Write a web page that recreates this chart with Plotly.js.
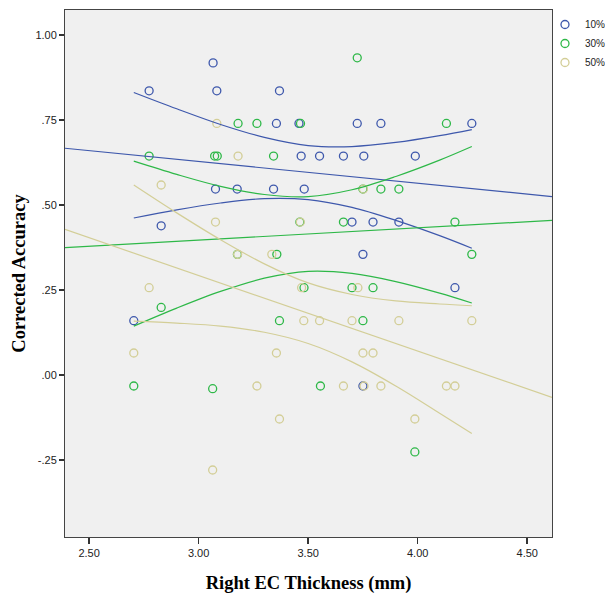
<!DOCTYPE html>
<html>
<head>
<meta charset="utf-8">
<script src="https://cdn.plot.ly/plotly-3.0.1.min.js"></script>
<style>html,body{margin:0;padding:0;background:#fff;overflow:hidden}#chart{width:625px;height:599px}</style>
</head>
<body>
<div id="chart"></div>
<script>
// ---- data ----
const groupNames = ['10%', '30%', '50%'];

const x10 = [2.704, 2.774, 2.829, 3.066, 3.083, 3.077, 3.176, 3.369, 3.355, 3.458, 3.724, 3.832, 4.247, 3.468, 3.552, 3.661, 3.754, 3.989, 3.342, 3.482, 3.700, 3.796, 3.914, 3.750, 4.170, 3.750];
const y10 = [0.160, 0.836, 0.439, 0.918, 0.836, 0.547, 0.547, 0.836, 0.740, 0.740, 0.740, 0.740, 0.740, 0.644, 0.644, 0.644, 0.644, 0.644, 0.547, 0.547, 0.450, 0.450, 0.450, 0.355, 0.257, -0.032];

const x30 = [3.724, 3.180, 3.266, 3.465, 4.131, 2.774, 3.073, 3.085, 3.342, 3.750, 3.832, 3.914, 3.462, 3.661, 4.170, 3.177, 3.357, 4.247, 3.481, 3.700, 3.796, 2.829, 3.369, 3.750, 2.704, 3.064, 3.556, 3.987];
const y30 = [0.933, 0.740, 0.740, 0.740, 0.740, 0.644, 0.644, 0.644, 0.644, 0.547, 0.547, 0.547, 0.450, 0.450, 0.450, 0.355, 0.355, 0.355, 0.257, 0.257, 0.257, 0.199, 0.160, 0.160, -0.032, -0.040, -0.032, -0.226];

const x50 = [3.083, 3.180, 2.829, 3.752, 3.077, 3.464, 3.178, 3.334, 2.774, 3.470, 3.727, 3.480, 3.552, 3.700, 3.914, 4.247, 2.704, 3.355, 3.750, 3.796, 3.266, 3.661, 3.755, 3.832, 4.131, 4.170, 3.369, 3.987, 3.064];
const y50 = [0.740, 0.644, 0.559, 0.547, 0.450, 0.450, 0.355, 0.355, 0.257, 0.257, 0.257, 0.160, 0.160, 0.160, 0.160, 0.160, 0.065, 0.065, 0.065, 0.065, -0.032, -0.032, -0.032, -0.032, -0.032, -0.032, -0.129, -0.129, -0.279];

// linear fit lines (value at the left and right ends of the x axis)
const fitX = [2.39, 4.613];
const fit10 = [0.667, 0.525];
const fit30 = [0.375, 0.455];
const fit50 = [0.4285, -0.0656];

// 95% mean confidence bands, sampled along the data range
const ciX = [2.704, 2.9, 3.1, 3.3, 3.5, 3.7, 3.9, 4.1, 4.247];
const ci10Up = [0.831, 0.783, 0.737, 0.699, 0.675, 0.672, 0.684, 0.704, 0.722];
const ci10Lo = [0.462, 0.486, 0.506, 0.519, 0.516, 0.493, 0.455, 0.410, 0.373];
const ci30Up = [0.629, 0.590, 0.555, 0.531, 0.525, 0.545, 0.584, 0.632, 0.672];
const ci30Lo = [0.144, 0.197, 0.246, 0.285, 0.305, 0.299, 0.275, 0.241, 0.212];
const ci50Up = [0.559, 0.477, 0.398, 0.327, 0.271, 0.237, 0.218, 0.209, 0.204];
const ci50Lo = [0.159, 0.153, 0.144, 0.126, 0.093, 0.039, -0.032, -0.112, -0.172];

const xTicks = [2.5, 3.0, 3.5, 4.0, 4.5];
const xTickText = ['2.50', '3.00', '3.50', '4.00', '4.50'];
const yTicks = [-0.25, 0, 0.25, 0.5, 0.75, 1.0];
const yTickText = ['-.25', '.00', '.25', '.50', '.75', '1.00'];

// ---- styling ----
const colors = ['#3E58AC', '#2EB848', '#D3CE97'];
const xs = [x10, x30, x50];
const ys = [y10, y30, y50];
const fits = [fit10, fit30, fit50];
const ups = [ci10Up, ci30Up, ci50Up];
const los = [ci10Lo, ci30Lo, ci50Lo];

const traces = [];
for (let i = 0; i < 3; i++) {
  traces.push({
    type: 'scatter', mode: 'markers', name: groupNames[i],
    x: xs[i], y: ys[i],
    marker: {symbol: 'circle-open', size: 8, color: colors[i], line: {width: 1.3, color: colors[i]}},
    hoverinfo: 'x+y'
  });
}
for (let i = 0; i < 3; i++) {
  traces.push({type: 'scatter', mode: 'lines', x: fitX, y: fits[i], showlegend: false,
    line: {color: colors[i], width: 1.2}, hoverinfo: 'skip'});
  traces.push({type: 'scatter', mode: 'lines', x: ciX, y: ups[i], showlegend: false,
    line: {color: colors[i], width: 1.2, shape: 'spline', smoothing: 1}, hoverinfo: 'skip'});
  traces.push({type: 'scatter', mode: 'lines', x: ciX, y: los[i], showlegend: false,
    line: {color: colors[i], width: 1.2, shape: 'spline', smoothing: 1}, hoverinfo: 'skip'});
}

const tickFont = {family: '"Liberation Sans", Arial, sans-serif', size: 11, color: '#222'};
const titleFont = {family: '"Liberation Serif", "Times New Roman", serif', size: 18.5, color: '#000', weight: 'bold'};

const layout = {
  width: 625, height: 599,
  margin: {l: 65, r: 73, t: 10, b: 62},
  paper_bgcolor: '#ffffff',
  plot_bgcolor: '#f0f0f0',
  showlegend: true,
  legend: {x: 0.9856, y: 1.0, xanchor: 'left', yanchor: 'top', bgcolor: 'rgba(0,0,0,0)',
    font: {family: '"Liberation Sans", Arial, sans-serif', size: 10, color: '#222'}, tracegroupgap: 0},
  xaxis: {
    range: [2.39, 4.613], tickvals: xTicks, ticktext: xTickText,
    ticks: 'outside', ticklen: 6, tickwidth: 1.5, tickcolor: '#333',
    showgrid: false, zeroline: false, showline: true, linecolor: '#444', linewidth: 1, mirror: true,
    tickfont: tickFont,
    title: {text: 'Right EC Thickness (mm)', font: titleFont, standoff: 17}
  },
  yaxis: {
    range: [-0.476, 1.0735], tickvals: yTicks, ticktext: yTickText,
    ticks: 'outside', ticklen: 5, tickwidth: 1.5, tickcolor: '#333',
    showgrid: false, zeroline: false, showline: true, linecolor: '#444', linewidth: 1, mirror: true,
    tickfont: tickFont,
    title: {text: 'Corrected Accuracy', font: titleFont, standoff: 4}
  }
};

Plotly.newPlot('chart', traces, layout, {displayModeBar: false, staticPlot: true});
</script>
</body>
</html>
